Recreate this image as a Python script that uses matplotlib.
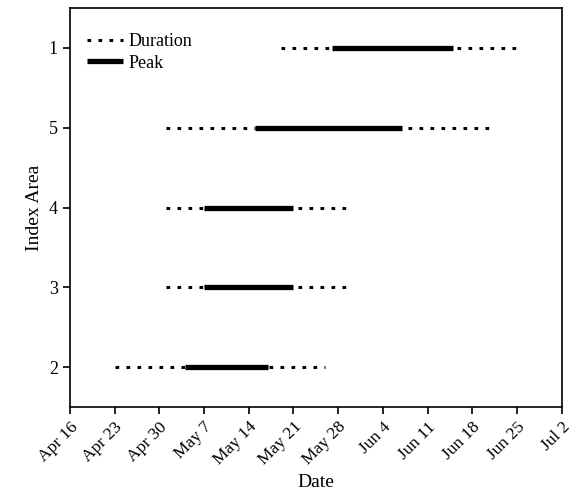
import matplotlib
matplotlib.use('Agg')

import matplotlib.pyplot as plt
import pandas as pd

plt.rcParams['font.family'] = ['Liberation Serif', 'DejaVu Serif']

# rows from bottom to top
areas = ['2', '3', '4', '5', '1']
dur_start = ['2001-04-23', '2001-05-01', '2001-05-01', '2001-05-01', '2001-05-19']
dur_end = ['2001-05-26', '2001-05-30', '2001-05-30', '2001-06-21', '2001-06-25']
peak_start = ['2001-05-04', '2001-05-07', '2001-05-07', '2001-05-15', '2001-05-27']
peak_end = ['2001-05-17', '2001-05-21', '2001-05-21', '2001-06-07', '2001-06-15']

tick_dates = pd.date_range('2001-04-16', '2001-07-02', freq='7D')

fig = plt.figure(figsize=(5.72, 4.90), dpi=100)
ax = fig.add_axes([0.122, 0.169, 0.860, 0.815])

for i in range(len(areas)):
    d0, d1 = pd.to_datetime(dur_start[i]), pd.to_datetime(dur_end[i])
    p0, p1 = pd.to_datetime(peak_start[i]), pd.to_datetime(peak_end[i])
    ax.plot([d0, d1], [i, i], color='black', lw=2.2, linestyle=(0, (1.2, 2.4)),
            label='Duration' if i == 0 else None)
    ax.plot([p0, p1], [i, i], color='white', lw=5, solid_capstyle='butt', zorder=3)
    ax.plot([p0, p1], [i, i], color='black', lw=3.8, solid_capstyle='butt', zorder=4,
            label='Peak' if i == 0 else None)

ax.set_xlim(tick_dates[0], tick_dates[-1])
ax.set_ylim(-0.5, len(areas) - 0.5)
ax.set_xticks(tick_dates)
ax.set_xticklabels([f"{d:%b} {d.day}" for d in tick_dates], rotation=45,
                   ha='right', rotation_mode='anchor', fontsize=12.5)
ax.set_yticks(range(len(areas)))
ax.set_yticklabels(areas, fontsize=13)
ax.tick_params(direction='out', length=5, width=1.2)
for s in ax.spines.values():
    s.set_linewidth(1.2)

ax.set_xlabel('Date', fontsize=14, labelpad=4)
ax.set_ylabel('Index Area', fontsize=14)

ax.legend(loc='upper left', bbox_to_anchor=(0.02, 0.955), frameon=False, fontsize=13,
          handlelength=2.0, handletextpad=0.3, labelspacing=0.25, borderaxespad=0.0)

plt.savefig('out.png', dpi=100)
